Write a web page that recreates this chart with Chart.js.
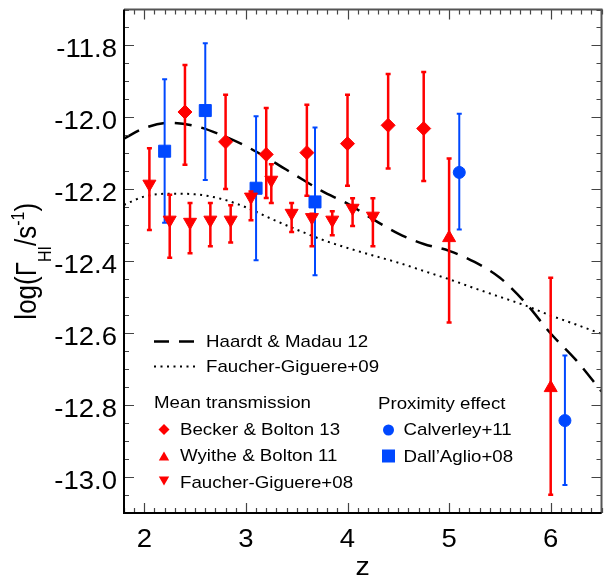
<!DOCTYPE html>
<html>
<head>
<meta charset="utf-8">
<title>HI photoionisation rate vs redshift</title>
<script src="https://cdn.jsdelivr.net/npm/chart.js@4.4.1/dist/chart.umd.min.js"></script>
<style>
  html, body { margin: 0; padding: 0; background: #ffffff; }
  #wrap { width: 611px; height: 578px; position: relative; }
</style>
</head>
<body>
<div id="wrap"><canvas id="gammaChart"></canvas></div>
<script>
// model curves, sampled off the figure
const modelZ = [1.8, 2.0, 2.25, 2.5, 2.75, 3.0, 3.25, 3.5, 3.75, 4.0, 4.25, 4.5, 4.75, 5.0, 5.25, 5.5, 5.75, 6.0, 6.25, 6.5];
const hm12 = [-12.059, -12.030, -12.015, -12.024, -12.048, -12.080, -12.120, -12.163, -12.205, -12.240, -12.283, -12.323, -12.352, -12.371, -12.402, -12.446, -12.515, -12.601, -12.675, -12.762];
const fg09 = [-12.243, -12.220, -12.212, -12.214, -12.226, -12.250, -12.282, -12.312, -12.340, -12.363, -12.384, -12.404, -12.427, -12.450, -12.475, -12.499, -12.523, -12.551, -12.576, -12.602];

// Mean transmission: Becker & Bolton 13
const bbZ = [2.4, 2.8, 3.2, 3.6, 4.0, 4.4, 4.75];
const bbVal = [-11.985, -12.068, -12.103, -12.098, -12.073, -12.022, -12.031];
const bbHi = [-11.854, -11.937, -11.974, -11.965, -11.937, -11.879, -11.874];
const bbLo = [-12.132, -12.199, -12.224, -12.218, -12.190, -12.142, -12.177];

// Mean transmission: Wyithe & Bolton 11
const wbZ = [5.0, 6.0];
const wbVal = [-12.335, -12.752];
const wbHi = [-12.114, -12.446];
const wbLo = [-12.570, -13.049];

// Mean transmission: Faucher-Giguere+08
const fgZ = [2.05, 2.25, 2.45, 2.65, 2.85, 3.05, 3.25, 3.45, 3.65, 3.85, 4.05, 4.25];
const fgVal = [-12.185, -12.285, -12.291, -12.285, -12.285, -12.221, -12.174, -12.266, -12.278, -12.285, -12.252, -12.274];
const fgHi = [-12.086, -12.215, -12.238, -12.238, -12.244, -12.206, -12.130, -12.238, -12.268, -12.261, -12.225, -12.225];
const fgLo = [-12.313, -12.390, -12.378, -12.358, -12.348, -12.286, -12.238, -12.319, -12.358, -12.328, -12.302, -12.358];

// Proximity effect: Calverley+11
const cvZ = [5.1, 6.14];
const cvVal = [-12.153, -12.843];
const cvHi = [-11.990, -12.662];
const cvLo = [-12.312, -13.022];

// Proximity effect: Dall'Aglio+08
const daZ = [2.2, 2.6, 3.1, 3.68];
const daVal = [-12.094, -11.981, -12.197, -12.235];
const daHi = [-11.894, -11.794, -11.997, -12.028];
const daLo = [-12.293, -12.174, -12.397, -12.439];

// axis ticks
const xTicks = [2, 3, 4, 5, 6];
const yTicks = [-11.8, -12.0, -12.2, -12.4, -12.6, -12.8, -13.0];

const RED = '#ff0000';
const BLUE = '#0048ff';
const FONT = '"Liberation Sans", Arial, sans-serif';
const SX = 1.1; // the lettering in the original is a little wide

function pts(xs, ys) {
    return xs.map((x, i) => ({ x: x, y: ys[i] }));
}

// draw text, stretched a bit horizontally
function txt(ctx, s, x, y, size, align) {
    ctx.save();
    ctx.translate(x, y);
    ctx.scale(SX, 1);
    ctx.font = size + 'px ' + FONT;
    ctx.textAlign = align || 'left';
    ctx.textBaseline = 'alphabetic';
    ctx.fillStyle = '#000';
    ctx.fillText(s, 0, 0);
    ctx.restore();
}

function marker(ctx, kind, x, y, r, color) {
    ctx.save();
    ctx.fillStyle = color;
    ctx.beginPath();
    if (kind === 'diamond') {
        ctx.moveTo(x, y - r); ctx.lineTo(x + r, y); ctx.lineTo(x, y + r); ctx.lineTo(x - r, y);
    } else if (kind === 'up') {
        ctx.moveTo(x, y - r); ctx.lineTo(x + r * 0.866, y + r / 2); ctx.lineTo(x - r * 0.866, y + r / 2);
    } else if (kind === 'down') {
        ctx.moveTo(x, y + r); ctx.lineTo(x + r * 0.866, y - r / 2); ctx.lineTo(x - r * 0.866, y - r / 2);
    } else if (kind === 'circle') {
        ctx.arc(x, y, r, 0, Math.PI * 2);
    } else {
        ctx.rect(x - r, y - r, 2 * r, 2 * r);
    }
    ctx.closePath();
    ctx.fill();
    ctx.restore();
}

// error bars go under each dataset's markers
const errorBars = {
    id: 'errorBars',
    beforeDatasetDraw(chart, args) {
        const ds = chart.data.datasets[args.index];
        if (!ds.errHi) return;
        const ctx = chart.ctx;
        const yScale = chart.scales.y;
        ctx.save();
        ctx.strokeStyle = ds.borderColor;
        ctx.lineWidth = ds.errWidth;
        args.meta.data.forEach((pt, i) => {
            const top = yScale.getPixelForValue(ds.errHi[i]);
            const bot = yScale.getPixelForValue(ds.errLo[i]);
            ctx.beginPath();
            ctx.moveTo(pt.x, top); ctx.lineTo(pt.x, bot);
            ctx.moveTo(pt.x - 2.5, top); ctx.lineTo(pt.x + 2.5, top);
            ctx.moveTo(pt.x - 2.5, bot); ctx.lineTo(pt.x + 2.5, bot);
            ctx.stroke();
        });
        ctx.restore();
    }
};

// frame, inward ticks, labels and the two-column legend
const frame = {
    id: 'frame',
    afterDraw(chart) {
        const ctx = chart.ctx;
        const a = chart.chartArea;
        const xs = chart.scales.x, ys = chart.scales.y;

        ctx.save();
        ctx.strokeStyle = '#444';
        ctx.lineWidth = 1.2;
        ctx.beginPath();
        for (let k = 18; k <= 65; k++) {
            const px = Math.round(xs.getPixelForValue(k / 10)) + 0.5;
            const len = (k % 10 === 0) ? 10 : 5;
            ctx.moveTo(px, a.bottom); ctx.lineTo(px, a.bottom - len);
            ctx.moveTo(px, a.top); ctx.lineTo(px, a.top + len);
        }
        for (let k = 0; k <= 28; k++) {
            const py = Math.round(ys.getPixelForValue(-13.1 + k * 0.05)) + 0.5;
            const len = ((k + 2) % 4 === 0) ? 10 : 5;
            ctx.moveTo(a.left, py); ctx.lineTo(a.left + len, py);
            ctx.moveTo(a.right, py); ctx.lineTo(a.right - len, py);
        }
        ctx.stroke();

        // box
        ctx.lineWidth = 2;
        ctx.strokeStyle = '#555';
        ctx.beginPath();
        ctx.moveTo(a.left, a.top); ctx.lineTo(a.right, a.top); ctx.lineTo(a.right, a.bottom);
        ctx.stroke();
        ctx.strokeStyle = '#000';
        ctx.beginPath();
        ctx.moveTo(a.left, a.top); ctx.lineTo(a.left, a.bottom); ctx.lineTo(a.right, a.bottom);
        ctx.stroke();
        ctx.restore();

        // tick labels
        xTicks.forEach(v => txt(ctx, String(v), xs.getPixelForValue(v), a.bottom + 34, 25, 'center'));
        yTicks.forEach(v => txt(ctx, v.toFixed(1), a.left - 7, ys.getPixelForValue(v) + 11.5, 25, 'right'));

        // axis titles
        txt(ctx, 'z', (a.left + a.right) / 2, 575, 26, 'center');

        ctx.save();
        ctx.translate(36, (a.top + a.bottom) / 2);
        ctx.scale(SX, 1);
        ctx.rotate(-Math.PI / 2);
        ctx.fillStyle = '#000';
        ctx.textBaseline = 'alphabetic';
        const parts = [
            { s: 'log(\u0393', size: 26, dy: 0 },
            { s: 'HI', size: 16, dy: 13.5 },
            { s: '/s', size: 26, dy: 0 },
            { s: '-1', size: 16, dy: -11 },
            { s: ')', size: 26, dy: 0 }
        ];
        let total = 0;
        parts.forEach(p => { ctx.font = p.size + 'px ' + FONT; p.w = ctx.measureText(p.s).width; total += p.w; });
        let cx = -total / 2;
        parts.forEach(p => {
            ctx.font = p.size + 'px ' + FONT;
            ctx.fillText(p.s, cx, p.dy);
            cx += p.w;
        });
        ctx.restore();

        // legend
        ctx.save();
        ctx.strokeStyle = '#000';
        ctx.lineWidth = 2.5;
        ctx.setLineDash([15, 10]);
        ctx.beginPath(); ctx.moveTo(154, 341.5); ctx.lineTo(195, 341.5); ctx.stroke();
        ctx.lineWidth = 2;
        ctx.setLineDash([2, 4.5]);
        ctx.beginPath(); ctx.moveTo(154, 366.5); ctx.lineTo(196, 366.5); ctx.stroke();
        ctx.restore();
        txt(ctx, 'Haardt & Madau 12', 206, 347, 17);
        txt(ctx, 'Faucher-Giguere+09', 206, 372, 17);

        txt(ctx, 'Mean transmission', 154, 408, 17);
        marker(ctx, 'diamond', 164, 429.5, 5.5, RED);
        txt(ctx, 'Becker & Bolton 13', 180, 435, 17);
        marker(ctx, 'up', 164, 457.5, 6, RED);
        txt(ctx, 'Wyithe & Bolton 11', 180, 461, 17);
        marker(ctx, 'down', 164, 479.5, 6, RED);
        txt(ctx, 'Faucher-Giguere+08', 180, 487.5, 17);

        txt(ctx, 'Proximity effect', 378, 409, 17);
        marker(ctx, 'circle', 388.5, 430, 5.5, BLUE);
        txt(ctx, 'Calverley+11', 403.5, 435, 17);
        marker(ctx, 'square', 388.5, 456, 6.5, BLUE);
        txt(ctx, 'Dall\u2019Aglio+08', 403.5, 461.5, 17);
    }
};

function pointSet(label, xs, ys, hi, lo, color, style, radius, rotation, errWidth) {
    return {
        label: label,
        data: pts(xs, ys),
        errHi: hi,
        errLo: lo,
        errWidth: errWidth,
        borderColor: color,
        backgroundColor: color,
        pointStyle: style,
        pointRadius: radius,
        pointRotation: rotation,
        pointBorderWidth: 1,
        showLine: false
    };
}

function curveSet(label, ys, dash, width) {
    return {
        label: label,
        data: pts(modelZ, ys),
        showLine: true,
        borderColor: '#000',
        borderWidth: width,
        borderDash: dash,
        pointRadius: 0,
        cubicInterpolationMode: 'monotone',
        fill: false
    };
}

// dataset 0 is drawn last, so the red symbols sit on top
const datasets = [
    pointSet('Becker & Bolton 13', bbZ, bbVal, bbHi, bbLo, RED, 'rectRot', 7, 0, 2.5),
    pointSet('Wyithe & Bolton 11', wbZ, wbVal, wbHi, wbLo, RED, 'triangle', 7.5, 0, 2.5),
    pointSet('Faucher-Giguere+08', fgZ, fgVal, fgHi, fgLo, RED, 'triangle', 7.5, 180, 2.5),
    pointSet('Calverley+11', cvZ, cvVal, cvHi, cvLo, BLUE, 'circle', 6, 0, 2),
    pointSet('Dall\u2019Aglio+08', daZ, daVal, daHi, daLo, BLUE, 'rect', 8.5, 0, 2),
    curveSet('Haardt & Madau 12', hm12, [17, 10], 2.5),
    curveSet('Faucher-Giguere+09', fg09, [2, 4.5], 2)
];

new Chart(document.getElementById('gammaChart'), {
    type: 'scatter',
    data: { datasets: datasets },
    options: {
        responsive: true,
        maintainAspectRatio: false,
        animation: false,
        layout: { padding: { left: 124, right: 4, top: 5, bottom: 65 } },
        plugins: {
            legend: { display: false },
            tooltip: { enabled: false }
        },
        scales: {
            x: { type: 'linear', display: false, min: 1.8, max: 6.5 },
            y: { type: 'linear', display: false, min: -13.1, max: -11.7 }
        }
    },
    plugins: [errorBars, frame]
});
</script>
</body>
</html>
